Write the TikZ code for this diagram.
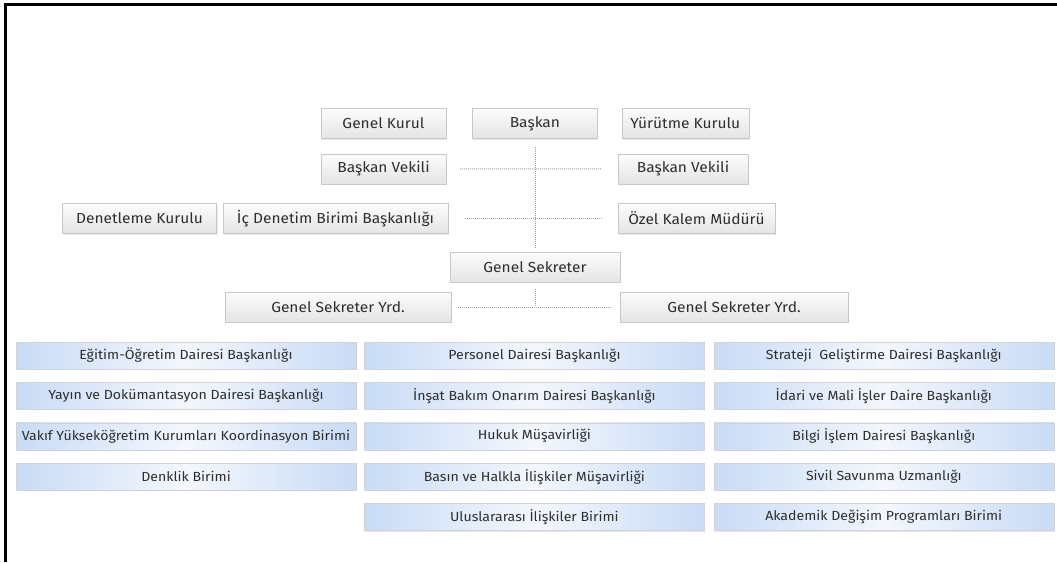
\documentclass[tikz,border=0pt]{standalone}
\usepackage{fontspec}
\setmainfont{Fira Sans}[FakeStretch=1.07]
\usetikzlibrary{positioning,shadows}
\definecolor{boxline}{HTML}{C8C8C8}
\definecolor{boxtop}{HTML}{FCFCFC}
\definecolor{boxbot}{HTML}{E4E4E4}
\definecolor{deptblue}{HTML}{C9DBF6}
\definecolor{deptpale}{HTML}{F3F7FD}
\definecolor{labeltext}{HTML}{2E2E2E}
\tikzset{
	unit/.style={draw=boxline, top color=boxtop, bottom color=boxbot, minimum height=30pt, inner sep=0pt, text=labeltext, font=\fontsize{14.5}{16}\selectfont, drop shadow={shadow xshift=1pt, shadow yshift=-1pt, opacity=0.2}},
	dept/.style={draw=boxline!80, left color=deptblue, right color=deptblue, middle color=deptpale, minimum width=340pt, minimum height=27pt, inner sep=0pt, text=labeltext, font=\fontsize{13.2}{15}\selectfont, drop shadow={shadow xshift=1pt, shadow yshift=-1pt, opacity=0.2}},
	link/.style={draw=gray!75, line width=1pt, dash pattern=on 1pt off 1pt},
}
\begin{document}
\begin{tikzpicture}[x=1pt, y=-1pt]
    \useasboundingbox (0,0) rectangle (1057,562);
    % frame
    \draw[line width=2.5pt] (5.5,562) -- (5.5,4.5) -- (1057,4.5);

    % top of the chart
    \node[unit, minimum width=125pt] (kurul) at (383.5,123.5) {Genel Kurul};
    \node[unit, minimum width=125pt, right=26pt of kurul] (baskan) {Başkan};
    \node[unit, minimum width=127pt, right=24pt of baskan] (yurutme) {Yürütme Kurulu};

    \node[unit, minimum width=125pt, below=15pt of kurul] (vekilL) {Başkan Vekili};
    \node[unit, minimum width=130pt] (vekilR) at (683,169) {Başkan Vekili};

    \node[unit, minimum width=225pt] (icden) at (335.5,218.5) {İç Denetim Birimi Başkanlığı};
    \node[unit, minimum width=154pt, left=6pt of icden] (denetleme) {Denetleme Kurulu};
    \node[unit, minimum width=157pt] (ozel) at (696.5,218.5) {Özel Kalem Müdürü};

    \node[unit, minimum width=170pt] (gs) at (535,267) {Genel Sekreter};
    \node[unit, minimum width=226pt] (gsyL) at (338,307) {Genel Sekreter Yrd.};
    \node[unit, minimum width=228pt] (gsyR) at (734,307) {Genel Sekreter Yrd.};

    % departments
    \node[dept] (d11) at (186,355.5) {Eğitim-Öğretim Dairesi Başkanlığı};
    \node[dept, below=13pt of d11] (d12) {Yayın ve Dokümantasyon Dairesi Başkanlığı};
    \node[dept, below=13pt of d12] (d13) {Vakıf Yükseköğretim Kurumları Koordinasyon Birimi};
    \node[dept, below=13pt of d13] (d14) {Denklik Birimi};

    \node[dept, right=8pt of d11] (d21) {Personel Dairesi Başkanlığı};
    \node[dept, below=13pt of d21] (d22) {İnşat Bakım Onarım Dairesi Başkanlığı};
    \node[dept, below=13pt of d22] (d23) {Hukuk Müşavirliği};
    \node[dept, below=13pt of d23] (d24) {Basın ve Halkla İlişkiler Müşavirliği};
    \node[dept, below=13pt of d24] (d25) {Uluslararası İlişkiler Birimi};

    \node[dept, right=9pt of d21] (d31) {Strateji\ \ Geliştirme Dairesi Başkanlığı};
    \node[dept, below=13pt of d31] (d32) {İdari ve Mali İşler Daire Başkanlığı};
    \node[dept, below=13pt of d32] (d33) {Bilgi İşlem Dairesi Başkanlığı};
    \node[dept, below=13pt of d33] (d34) {Sivil Savunma Uzmanlığı};
    \node[dept, below=13pt of d34] (d35) {Akademik Değişim Programları Birimi};

    % dotted links
    \draw[link, shorten <=8pt, shorten >=5pt] (gs.north |- baskan.south) -- (gs.north);
    \draw[link, shorten <=14pt, shorten >=16pt] (vekilL.east) -- (vekilR.west);
    \draw[link, shorten <=17pt, shorten >=16pt] (icden.east) -- (ozel.west);
    \draw[link, shorten <=7pt] (gs.south) -- (gs.south |- gsyL.east);
    \draw[link, shorten <=7pt, shorten >=8pt] (gsyL.east) -- (gsyR.west);
\end{tikzpicture}
\end{document}
